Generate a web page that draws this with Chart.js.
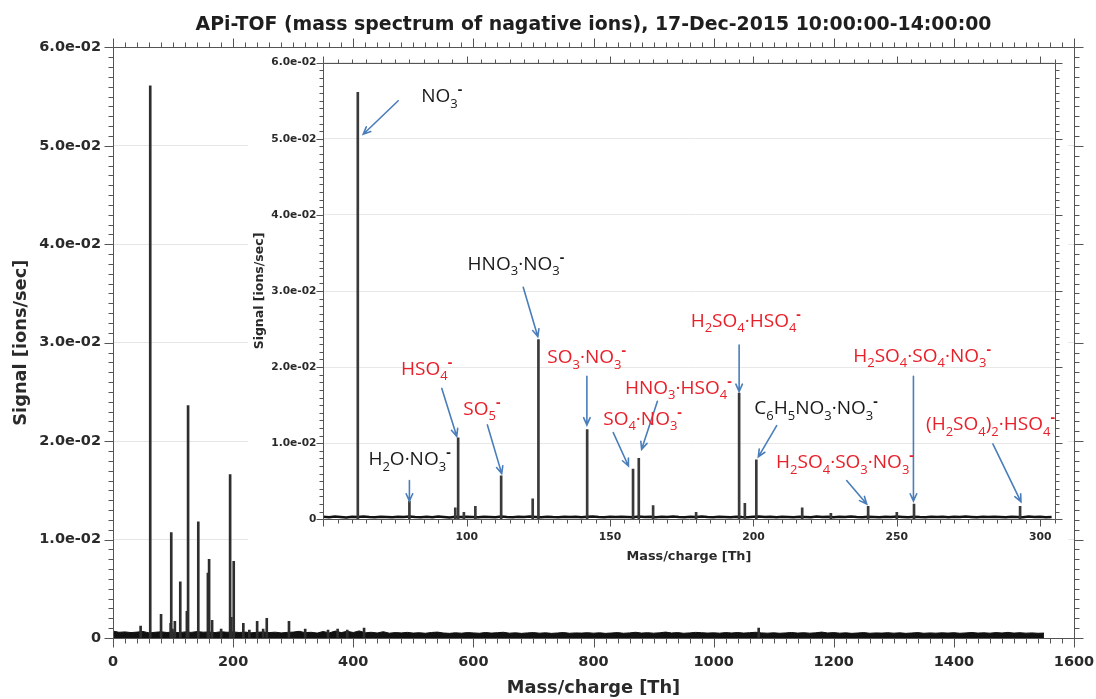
<!DOCTYPE html>
<html>
<head>
<meta charset="utf-8">
<script src="https://cdn.jsdelivr.net/npm/chart.js@4.4.1/dist/chart.umd.min.js"></script>
<style>
html,body{margin:0;padding:0;background:#fff;}
#wrap{position:relative;width:1096px;height:699px;overflow:hidden;}
#main{position:absolute;left:0;top:0;}
#inset{position:absolute;left:248px;top:50px;background:#fff;}
</style>
</head>
<body>
<div id="wrap">
<canvas id="main" width="1096" height="699"></canvas>
<canvas id="inset" width="820" height="522"></canvas>
</div>
<script>
// ---------------- data ----------------
const titleText = 'APi-TOF (mass spectrum of nagative ions), 17-Dec-2015 10:00:00-14:00:00';
const xTitle = 'Mass/charge [Th]';
const yTitle = 'Signal [ions/sec]';

// tick labels
const mainXTicks  = [0, 200, 400, 600, 800, 1000, 1200, 1400, 1600];
const insetXTicks = [100, 150, 200, 250, 300];
const yTicks      = [0, 0.01, 0.02, 0.03, 0.04, 0.05, 0.06];

// peak positions (Th) and heights (ions/sec)
const peakMass   = [46, 62, 80, 96, 97, 99, 103, 112, 123, 125, 142, 158, 160, 165, 180, 195, 197, 201, 217, 227, 240, 250, 256, 293, 320, 358, 374, 390, 418, 1075];
const peakSignal = [0.0012, 0.0561, 0.0024, 0.0015, 0.0107, 0.0009, 0.0017, 0.0057, 0.0027, 0.0236, 0.0118, 0.0066, 0.0080, 0.0018, 0.0009, 0.0166, 0.0021, 0.0078, 0.0015, 0.0008, 0.0017, 0.0009, 0.0020, 0.0017, 0.0009, 0.0008, 0.0009, 0.0008, 0.0010, 0.0010];

// background noise of full spectrum, sampled every 10 Th from 0 Th
const noiseMainStart = 0, noiseMainStep = 10;
const noiseMain = [
 0.00070,0.00058,0.00062,0.00055,0.00060,0.00066,0.00052,0.00058,0.00063,0.00056,
 0.00060,0.00054,0.00062,0.00057,0.00065,0.00059,0.00061,0.00055,0.00064,0.00058,
 0.00062,0.00056,0.00060,0.00053,0.00058,0.00061,0.00055,0.00059,0.00052,0.00057,
 0.00060,0.00068,0.00054,0.00058,0.00050,0.00066,0.00052,0.00070,0.00055,0.00068,
 0.00056,0.00072,0.00053,0.00058,0.00051,0.00064,0.00049,0.00055,0.00052,0.00057,
 0.00050,0.00054,0.00048,0.00056,0.00060,0.00051,0.00047,0.00053,0.00049,0.00055,
 0.00052,0.00048,0.00056,0.00050,0.00054,0.00058,0.00049,0.00053,0.00047,0.00052,
 0.00055,0.00049,0.00053,0.00047,0.00051,0.00056,0.00048,0.00052,0.00050,0.00054,
 0.00049,0.00053,0.00047,0.00051,0.00055,0.00048,0.00052,0.00058,0.00050,0.00054,
 0.00049,0.00053,0.00060,0.00051,0.00055,0.00048,0.00052,0.00057,0.00054,0.00050,
 0.00053,0.00049,0.00055,0.00051,0.00056,0.00050,0.00054,0.00058,0.00052,0.00049,
 0.00053,0.00048,0.00052,0.00056,0.00050,0.00054,0.00049,0.00053,0.00060,0.00051,
 0.00055,0.00049,0.00053,0.00047,0.00051,0.00055,0.00048,0.00052,0.00050,0.00054,
 0.00049,0.00053,0.00047,0.00051,0.00055,0.00048,0.00052,0.00049,0.00053,0.00050,
 0.00054,0.00048,0.00052,0.00056,0.00050,0.00053,0.00049,0.00055,0.00051,0.00057,
 0.00050,0.00054,0.00049,0.00052,0.00048,0.00050
];

// background noise of the zoomed range, sampled every 2 Th from 50 Th
const noiseInsetStart = 50, noiseInsetStep = 2;
const noiseInset = [
 0.00032,0.00028,0.00036,0.00030,0.00025,0.00034,0.00029,0.00038,0.00031,0.00027,0.00035,0.00030,0.00026,0.00033,0.00029,0.00037,
 0.00031,0.00027,0.00034,0.00028,0.00036,0.00030,0.00025,0.00033,0.00029,0.00035,0.00030,0.00026,0.00034,0.00031,0.00028,0.00036,
 0.00030,0.00027,0.00033,0.00029,0.00037,0.00031,0.00026,0.00034,0.00030,0.00028,0.00035,0.00029,0.00033,0.00027,0.00032,0.00038,
 0.00030,0.00026,0.00034,0.00029,0.00035,0.00031,0.00027,0.00036,0.00030,0.00033,0.00028,0.00034,0.00029,0.00037,0.00031,0.00027,
 0.00033,0.00029,0.00036,0.00030,0.00026,0.00034,0.00031,0.00028,0.00035,0.00030,0.00027,0.00033,0.00038,0.00029,0.00032,0.00028,
 0.00034,0.00030,0.00026,0.00035,0.00031,0.00028,0.00036,0.00030,0.00033,0.00027,0.00034,0.00029,0.00037,0.00031,0.00028,0.00035,
 0.00030,0.00026,0.00033,0.00029,0.00036,0.00031,0.00027,0.00034,0.00030,0.00028,0.00035,0.00029,0.00032,0.00027,0.00034,0.00030,
 0.00036,0.00031,0.00027,0.00033,0.00029,0.00035,0.00030,0.00026,0.00034,0.00031,0.00028,0.00036,0.00030,0.00033,0.00027,0.00031
];

// ion labels of the inset (text at [tm, ts], arrow from [am1, as1] to [am2, as2], in Th / ions per sec)
const ionLabels = [
 {text:'NO_3^-',               red:false, tm:84.1,  ts:0.0548, am1:76.1,  as1:0.0550, am2:63.9,  as2:0.0506},
 {text:'HNO_3·NO_3^-',         red:false, tm:100.3, ts:0.0328, am1:119.7, as1:0.0305, am2:124.8, as2:0.0240},
 {text:'HSO_4^-',              red:true,  tm:77.1,  ts:0.0190, am1:91.3,  as1:0.0172, am2:96.5,  as2:0.0109},
 {text:'SO_5^-',               red:true,  tm:98.8,  ts:0.0137, am1:107.2, as1:0.0124, am2:112.2, as2:0.0060},
 {text:'H_2O·NO_3^-',          red:false, tm:65.7,  ts:0.0071, am1:80.0,  as1:0.0051, am2:80.0,  as2:0.0024},
 {text:'SO_3·NO_3^-',          red:true,  tm:128.1, ts:0.0205, am1:141.9, as1:0.0188, am2:141.9, as2:0.0124},
 {text:'SO_4·NO_3^-',          red:true,  tm:147.6, ts:0.0124, am1:151.1, as1:0.0114, am2:156.4, as2:0.0070},
 {text:'HNO_3·HSO_4^-',        red:true,  tm:155.2, ts:0.0165, am1:166.5, as1:0.0155, am2:161.0, as2:0.0092},
 {text:'H_2SO_4·HSO_4^-',      red:true,  tm:178.1, ts:0.0253, am1:195.0, as1:0.0229, am2:195.0, as2:0.0168},
 {text:'C_6H_5NO_3·NO_3^-',    red:false, tm:200.3, ts:0.0138, am1:208.1, as1:0.0123, am2:201.7, as2:0.0082},
 {text:'H_2SO_4·SO_4·NO_3^-',  red:true,  tm:234.8, ts:0.0207, am1:255.8, as1:0.0188, am2:255.8, as2:0.0024},
 {text:'H_2SO_4·SO_3·NO_3^-',  red:true,  tm:207.9, ts:0.0067, am1:232.5, as1:0.0051, am2:239.5, as2:0.0020},
 {text:'(H_2SO_4)_2·HSO_4^-',  red:true,  tm:260.2, ts:0.0117, am1:283.5, as1:0.0099, am2:293.3, as2:0.0023}
];

// ---------------- build ----------------
const AXFONT = '"DejaVu Sans", "Open Sans", sans-serif';
const FONT = '"Open Sans", "DejaVu Sans", sans-serif';
const peakPoints = peakMass.map((m, i) => ({x: m, y: peakSignal[i]}));
const noiseMainPts = noiseMain.map((v, i) => ({x: noiseMainStart + i * noiseMainStep, y: v}));
const noiseInsetPts = noiseInset.map((v, i) => ({x: noiseInsetStart + i * noiseInsetStep, y: v}));

function expLabel(v) {
  if (Math.abs(v) < 1e-12) return '0';
  return Number(v).toExponential(1).replace(/e-(\d)$/, 'e-0$1');
}
const tickList = arr => arr.map(v => ({value: v}));

function frameTicks(o) {
  return {
    id: 'frameTicks',
    afterDraw(chart) {
      const {ctx, chartArea: a, scales: {x, y}} = chart;
      ctx.save();
      ctx.strokeStyle = o.color;
      ctx.lineWidth = 1;
      const L = Math.round(a.left) + 0.5, R = Math.round(a.right) + 0.5;
      const T = Math.round(a.top) + 0.5, B = Math.round(a.bottom) + 0.5;
      ctx.beginPath();
      ctx.rect(L, T, R - L, B - T);
      const nx = Math.round((x.max - x.min) / o.xMinor);
      for (let i = 0; i <= nx; i++) {
        const px = Math.round(x.getPixelForValue(x.min + i * o.xMinor)) + 0.5;
        const len = (i % o.xPer === 0) ? o.major : o.minor;
        ctx.moveTo(px, B); ctx.lineTo(px, B + len);
        ctx.moveTo(px, T); ctx.lineTo(px, T - len);
      }
      const ny = Math.round((y.max - y.min) / o.yMinor);
      for (let i = 0; i <= ny; i++) {
        const py = Math.round(y.getPixelForValue(y.min + i * o.yMinor)) + 0.5;
        const len = (i % o.yPer === 0) ? o.major : o.minor;
        ctx.moveTo(L, py); ctx.lineTo(L - len, py);
        ctx.moveTo(R, py); ctx.lineTo(R + len, py);
      }
      ctx.stroke();
      ctx.restore();
    }
  };
}

function drawRich(ctx, s, x, y, size, color) {
  let i = 0, cx = x;
  ctx.fillStyle = color;
  ctx.textBaseline = 'alphabetic';
  ctx.textAlign = 'left';
  while (i < s.length) {
    const c = s[i];
    if (c === '_' || c === '^') {
      const t = s[i + 1];
      if (c === '_') {
        ctx.font = `${Math.round(size * 0.68)}px ${FONT}`;
        ctx.fillText(t, cx, y + size * 0.28);
        cx += ctx.measureText(t).width;
      } else {
        ctx.font = `bold ${Math.round(size * 0.72)}px ${FONT}`;
        ctx.fillText(t, cx, y - size * 0.42);
        cx += ctx.measureText(t).width;
      }
      i += 2;
    } else {
      let j = i;
      while (j < s.length && s[j] !== '_' && s[j] !== '^') j++;
      const t = s.slice(i, j);
      ctx.font = `${size}px ${FONT}`;
      ctx.fillText(t, cx, y);
      cx += ctx.measureText(t).width;
      i = j;
    }
  }
}

function drawArrow(ctx, x1, y1, x2, y2) {
  ctx.beginPath();
  ctx.moveTo(x1, y1); ctx.lineTo(x2, y2);
  const ang = Math.atan2(y2 - y1, x2 - x1), L = 8, w = 0.42;
  ctx.moveTo(x2 - L * Math.cos(ang - w), y2 - L * Math.sin(ang - w));
  ctx.lineTo(x2, y2);
  ctx.lineTo(x2 - L * Math.cos(ang + w), y2 - L * Math.sin(ang + w));
  ctx.stroke();
}

const ionLabelPlugin = {
  id: 'ionLabels',
  afterDatasetsDraw(chart) {
    const {ctx, scales: {x, y}} = chart;
    ctx.save();
    ctx.strokeStyle = '#4a7ebb';
    ctx.lineWidth = 1.6;
    ctx.lineCap = 'round';
    ionLabels.forEach(l => {
      drawArrow(ctx, x.getPixelForValue(l.am1), y.getPixelForValue(l.as1),
                     x.getPixelForValue(l.am2), y.getPixelForValue(l.as2));
    });
    ionLabels.forEach(l => {
      drawRich(ctx, l.text, x.getPixelForValue(l.tm), y.getPixelForValue(l.ts), 19, l.red ? '#e8202a' : '#1a1a1a');
    });
    ctx.restore();
  }
};

// ---------------- main chart ----------------
new Chart(document.getElementById('main'), {
  type: 'bar',
  data: {
    datasets: [
      {type: 'bar', data: peakPoints, backgroundColor: '#2e2e2e', barThickness: 2, order: 1},
      {type: 'line', data: noiseMainPts, borderColor: '#111', backgroundColor: '#111', borderWidth: 1,
       pointRadius: 0, fill: 'origin', tension: 0, order: 2}
    ]
  },
  options: {
    responsive: false, animation: false, devicePixelRatio: 1,
    layout: {padding: {left: 0, right: 22, top: 0, bottom: 0}},
    plugins: {
      legend: {display: false}, tooltip: {enabled: false},
      title: {display: true, fullSize: false, text: titleText, color: '#1e1e1e',
              font: {family: AXFONT, size: 18.9, weight: 'bold'}, padding: {top: 13.5, bottom: 11.2}}
    },
    scales: {
      x: {
        type: 'linear', min: 0, max: 1600, offset: false,
        grid: {display: false, drawTicks: false}, border: {display: false},
        afterBuildTicks(s) { s.ticks = tickList(mainXTicks); },
        ticks: {autoSkip: false, padding: 16, color: '#2a2a2a', font: {family: AXFONT, size: 14.5, weight: 'bold'}, maxRotation: 0,
                callback: v => String(v)},
        title: {display: true, text: xTitle, color: '#2a2a2a', font: {family: AXFONT, size: 17.8, weight: 'bold'}, padding: {top: 0, bottom: 0}},
        afterFit(s) { s.height = 61; s.paddingLeft = 0; s.paddingRight = 0; }
      },
      y: {
        type: 'linear', min: 0, max: 0.06,
        grid: {color: '#e6e6e6', drawTicks: false}, border: {display: false},
        afterBuildTicks(s) { s.ticks = tickList(yTicks); },
        ticks: {autoSkip: false, padding: 12, color: '#2a2a2a', font: {family: AXFONT, size: 14.5, weight: 'bold'}, callback: expLabel},
        title: {display: true, text: yTitle, color: '#2a2a2a', font: {family: AXFONT, size: 17.8, weight: 'bold'}, padding: {top: 11, bottom: 0}},
        afterFit(s) { s.width = 113; s.paddingTop = 0; s.paddingBottom = 0; }
      }
    }
  },
  plugins: [frameTicks({color: '#555', xMinor: 20, xPer: 10, yMinor: 0.001, yPer: 10, major: 9, minor: 5})]
});

// ---------------- inset chart ----------------
new Chart(document.getElementById('inset'), {
  type: 'bar',
  data: {
    datasets: [
      {type: 'bar', data: peakPoints, backgroundColor: '#3a3a3a', barThickness: 2, order: 1},
      {type: 'line', data: noiseInsetPts, borderColor: '#111', borderWidth: 2.5,
       pointRadius: 0, fill: false, tension: 0, order: 2}
    ]
  },
  options: {
    responsive: false, animation: false, devicePixelRatio: 1,
    layout: {padding: {left: 0, right: 13.5, top: 12.7, bottom: 0}},
    plugins: {legend: {display: false}, tooltip: {enabled: false}},
    scales: {
      x: {
        type: 'linear', min: 50, max: 305, offset: false,
        grid: {display: false, drawTicks: false}, border: {display: false},
        afterBuildTicks(s) { s.ticks = tickList(insetXTicks); },
        ticks: {autoSkip: false, padding: 11, color: '#2a2a2a', font: {family: AXFONT, size: 10.8, weight: 'bold'}, maxRotation: 0,
                callback: v => String(v)},
        title: {display: true, text: xTitle, color: '#2a2a2a', font: {family: AXFONT, size: 12.8, weight: 'bold'}, padding: {top: 0, bottom: 8}},
        afterFit(s) { s.height = 52.7; s.paddingLeft = 0; s.paddingRight = 0; }
      },
      y: {
        type: 'linear', min: 0, max: 0.06,
        grid: {color: '#e8e8e8', drawTicks: false}, border: {display: false},
        afterBuildTicks(s) { s.ticks = tickList(yTicks); },
        ticks: {autoSkip: false, padding: 7, color: '#2a2a2a', font: {family: AXFONT, size: 10.6, weight: 'bold'}, callback: expLabel},
        title: {display: true, text: yTitle, color: '#2a2a2a', font: {family: AXFONT, size: 12.5, weight: 'bold'}, padding: {top: 4, bottom: 0}},
        afterFit(s) { s.width = 75.4; s.paddingTop = 0; s.paddingBottom = 0; }
      }
    }
  },
  plugins: [frameTicks({color: '#555', xMinor: 5, xPer: 10, yMinor: 0.001, yPer: 10, major: 7, minor: 4}), ionLabelPlugin]
});
</script>
</body>
</html>
